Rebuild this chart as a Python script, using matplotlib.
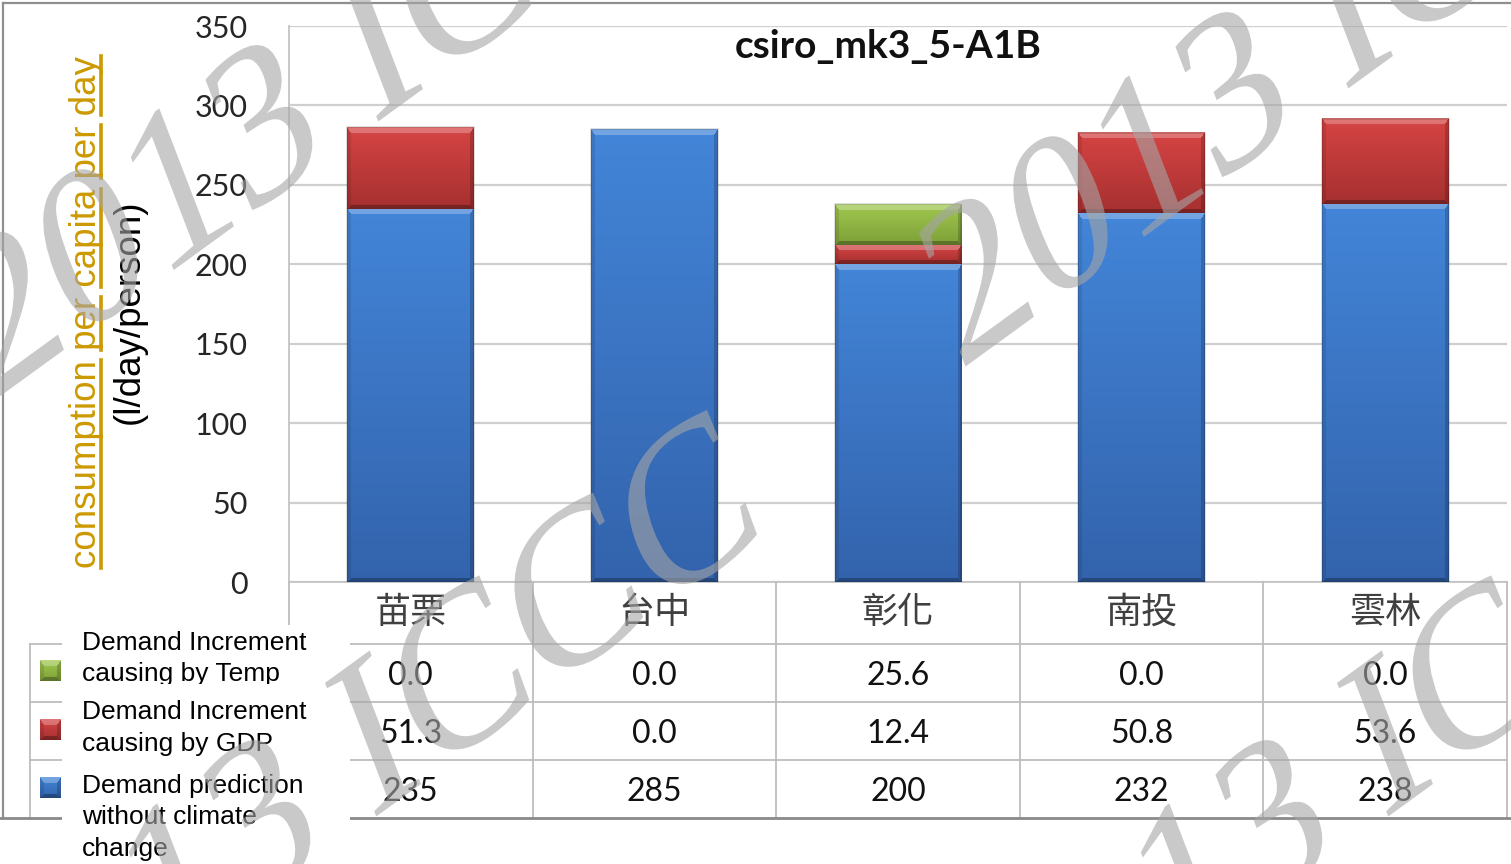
import numpy as np
import matplotlib
matplotlib.use("Agg")
import matplotlib.pyplot as plt
from matplotlib.colors import to_rgb
from matplotlib.patches import Rectangle, PathPatch
from matplotlib.lines import Line2D
from matplotlib.textpath import TextPath
from matplotlib.font_manager import FontProperties
from matplotlib.transforms import Affine2D

# ---------------- data ----------------
categories = ["苗栗", "台中", "彰化", "南投", "雲林"]
base_demand = [235, 285, 200, 232, 238]          # without climate change
gdp_increment = [51.3, 0.0, 12.4, 50.8, 53.6]     # increment from GDP
temp_increment = [0.0, 0.0, 25.6, 0.0, 0.0]       # increment from temperature
series_labels = ["Demand Increment\ncausing by Temp",
                 "Demand Increment\ncausing by GDP",
                 "Demand prediction\nwithout climate\nchange"]
y_ticks = [0, 50, 100, 150, 200, 250, 300, 350]
chart_title = "csiro_mk3_5-A1B"
ylabel_main = "consumption per capita per day"
ylabel_unit = "(l/day/person)"
watermark = "2013 ICCC"

# ---------------- figure geometry (pixels, y measured from top) ----------------
W, H, DPI = 1511, 864, 100
plt.rcParams["font.family"] = ["Lato", "Noto Sans CJK TC", "DejaVu Sans"]
fig = plt.figure(figsize=(W / DPI, H / DPI), dpi=DPI)
fig.patch.set_facecolor("white")


def fx(px):
    return px / W


def fy(py):
    return 1 - py / H


AX_L, AX_R, AX_T, AX_B = 289, 1507, 26, 582
ax = fig.add_axes([fx(AX_L), fy(AX_B), (AX_R - AX_L) / W, (AX_B - AX_T) / H])
n = len(categories)
x = np.arange(n)
bar_w = 0.52
ymax = y_ticks[-1]

BLUE = (to_rgb("#4385d8"), to_rgb("#3363ac"))
RED = (to_rgb("#d64444"), to_rgb("#a63030"))
GREEN = (to_rgb("#a0c850"), to_rgb("#7ea038"))


def bevel_image(h, w, top, bottom):
    """Vertical gradient block with a bevelled rim (light top, dark bottom/sides)."""
    h = max(int(round(h)), 3)
    w = max(int(round(w)), 3)
    t = np.linspace(0, 1, h)[:, None, None]
    img = (1 - t) * np.asarray(top)[None, None, :] + t * np.asarray(bottom)[None, None, :]
    img = np.repeat(img, w, axis=1)
    r = np.arange(h, dtype=float)[:, None]
    c = np.arange(w, dtype=float)[None, :]
    d = np.stack([np.broadcast_to(r / 6.0, (h, w)),
                  np.broadcast_to((h - 1 - r) / 3.5, (h, w)),
                  np.broadcast_to(c / 4.0, (h, w)),
                  np.broadcast_to((w - 1 - c) / 4.0, (h, w))])
    k = d.argmin(0)
    inside = d.min(0) < 1
    shade = (np.array([0.26, -0.28, -0.10, -0.18])[k] * inside)[..., None]
    img = np.where(shade > 0, img + (1 - img) * shade, img * (1 + shade))
    return np.clip(img, 0, 1)


px_per_unit = (AX_B - AX_T) / ymax
bar_w_px = bar_w * (AX_R - AX_L) / n

bottoms = np.zeros(n)
for values, (ctop, cbot) in [(base_demand, BLUE), (gdp_increment, RED), (temp_increment, GREEN)]:
    for i, v in enumerate(values):
        if v <= 0:
            continue
        img = bevel_image(v * px_per_unit, bar_w_px, ctop, cbot)
        ax.imshow(img, extent=[x[i] - bar_w / 2, x[i] + bar_w / 2, bottoms[i], bottoms[i] + v],
                  aspect="auto", interpolation="bilinear", zorder=3)
    bottoms += np.asarray(values, dtype=float)

# faint outline around each stacked column
ax.bar(x, bottoms, width=bar_w, fill=False, edgecolor=(0, 0, 0, 0.15), linewidth=1.2, zorder=4)

ax.set_xlim(-0.5, n - 0.5)
ax.set_ylim(0, ymax)
ax.set_yticks(y_ticks)
ax.set_yticklabels([str(v) for v in y_ticks])
ax.set_xticks([])
ax.tick_params(axis="y", length=0, pad=30, labelsize=22, labelcolor="#262626")
ax.yaxis.grid(True, color="#cfcfcf", linewidth=1.6)
ax.set_axisbelow(True)
for side in ["top", "right"]:
    ax.spines[side].set_visible(False)
ax.spines["left"].set_color("#c4c4c4")
ax.spines["left"].set_linewidth(1.3)
ax.spines["bottom"].set_color("#c4c4c4")
ax.spines["bottom"].set_linewidth(1.3)

fig.text(fx(888), fy(46), chart_title, ha="center", va="center",
         fontsize=28, fontweight="bold", color="#111111")

# ---------------- y-axis title (two lines, first one underlined) ----------------
lab_main = fig.text(fx(87), fy(312), ylabel_main, rotation=90, ha="center", va="center",
                    color="#CC9900", fontsize=26.5, family="Liberation Sans")
lab_unit = fig.text(fx(129), fy(312), ylabel_unit, rotation=90, ha="center", va="center",
                    color="black", fontsize=26.5, family="Liberation Sans")

# ---------------- data table under the plot ----------------
GRID = "#bdbdbd"


def fig_line(xs, ys, color=GRID, lw=1.3, z=2):
    fig.add_artist(Line2D([fx(v) for v in xs], [fy(v) for v in ys], color=color,
                          linewidth=lw, transform=fig.transFigure, zorder=z))


col_edges = [ax.transData.transform((i - 0.5, 0))[0] for i in range(n + 1)]
col_centers = [ax.transData.transform((i, 0))[0] for i in range(n)]
ROW_CAT, ROW1, ROW2, ROW3, ROW_END = 582, 644, 702, 760, 818
TABLE_L = 30

fig_line([col_edges[0], col_edges[0]], [ROW_CAT, ROW1])
for e in col_edges[1:]:
    fig_line([e, e], [ROW_CAT, ROW_END])
for yy in [ROW1, ROW2, ROW3]:
    fig_line([TABLE_L, col_edges[-1]], [yy, yy])
fig_line([TABLE_L, TABLE_L], [ROW1, ROW_END])

# outer chart frame
fig_line([3, W], [3, 3], color="#8f8f8f", lw=1.6)
fig_line([3, 3], [3, ROW_END], color="#8f8f8f", lw=1.6)
fig_line([0, W], [ROW_END, ROW_END], color="#8a8a8a", lw=2.0)

for i, cx in enumerate(col_centers):
    fig.text(fx(cx), fy(613), categories[i], ha="center", va="center", fontsize=26,
             color="#404040", family=["Noto Sans CJK TC", "DejaVu Sans"], zorder=3)
    row_vals = [f"{temp_increment[i]:.1f}", f"{gdp_increment[i]:.1f}", f"{base_demand[i]:d}"]
    for yy, s in zip([676, 734, 792], row_vals):
        fig.text(fx(cx), fy(yy), s, ha="center", va="center", fontsize=23,
                 color="#111111", zorder=3)

# ---------------- legend block over the row headers ----------------
fig.add_artist(Rectangle((fx(62), fy(H)), (350 - 62) / W, (H - 625) / H,
                         transform=fig.transFigure, facecolor="white",
                         edgecolor="none", zorder=5))

marker_rows = [671, 730, 788]
for (ctop, cbot), yc in zip([GREEN, RED, BLUE], marker_rows):
    sq = bevel_image(21, 21, ctop, cbot)
    fig.figimage(sq, xo=40, yo=H - yc - 10, origin="upper", zorder=6)

legend_line_tops = [643, 712, 786]
line_gap = 31.5
for lbl, y0 in zip(series_labels, legend_line_tops):
    for j, part in enumerate(lbl.split("\n")):
        fig.text(fx(82), fy(y0 + j * line_gap), part, ha="left", va="center",
                 fontsize=19, family="Liberation Sans", color="black", zorder=7)

# the first entry is cut off at the bottom of its slot
fig.add_artist(Rectangle((fx(75), fy(697)), (320 - 75) / W, 13 / H,
                         transform=fig.transFigure, facecolor="white",
                         edgecolor="none", zorder=8))

# ---------------- underline the main axis title word by word ----------------
fig.canvas.draw()
renderer = fig.canvas.get_renderer()
bb = lab_main.get_window_extent(renderer)
prop = lab_main.get_fontproperties()


def text_w(s):
    return renderer.get_text_width_height_descent(s, prop, ismath=False)[0]


_, _, desc = renderer.get_text_width_height_descent(ylabel_main, prop, ismath=False)
size_px = prop.get_size_in_points() * DPI / 72
ul_x = bb.x1 - desc + 0.11 * size_px
pos = 0
for word in ylabel_main.split(" "):
    idx = ylabel_main.index(word, pos)
    end = text_w(ylabel_main[:idx + len(word)])
    start = end - text_w(word)
    pos = idx + len(word)
    fig.add_artist(Line2D([ul_x / W, ul_x / W], [(bb.y0 + start) / H, (bb.y0 + end) / H],
                          color="#CC9900", linewidth=2.6, transform=fig.transFigure, zorder=3))

# ---------------- diagonal watermark ----------------
wm_path = TextPath((0, 0), watermark, size=211, prop=FontProperties(family="Liberation Serif"))
for ox, oy in [(-12, 405), (958, 372), (-14, 1100), (998, 1100)]:
    tr = Affine2D().skew_deg(15, 0).rotate_deg(36).translate(ox, H - oy)
    fig.add_artist(PathPatch(wm_path, transform=tr, facecolor="#a6a6a6",
                             edgecolor="none", alpha=0.6, zorder=100))

fig.savefig("out.png", dpi=DPI, facecolor="white")
